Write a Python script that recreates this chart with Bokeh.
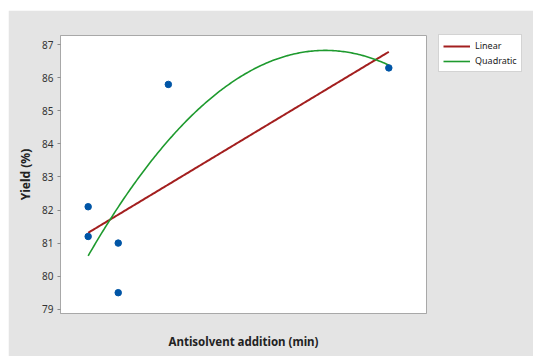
import numpy as np
from bokeh.plotting import figure
from bokeh.models import FixedTicker, Legend, LegendItem, Range1d, Spacer
from bokeh.layouts import column, row
from bokeh.embed import file_html
from bokeh.resources import INLINE

# data (x position read on a relative scale; the axis carries no tick labels)
addition_time = [0, 0, 3, 3, 8, 30]
yield_pct = [82.1, 81.2, 81.0, 79.5, 85.8, 86.3]
y_ticks = [79, 80, 81, 82, 83, 84, 85, 86, 87]

x = np.array(addition_time, dtype=float)
y = np.array(yield_pct, dtype=float)
xs = np.linspace(x.min(), x.max(), 200)
lin = np.polyval(np.polyfit(x, y, 1), xs)
quad = np.polyval(np.polyfit(x, y, 2), xs)

FONT = "Noto Sans"
BG = "#e4e4e4"

p = figure(width=525, height=346, output_backend="svg", toolbar_location=None,
           x_range=Range1d(-2.76, 33.76), y_range=Range1d(78.87, 87.28),
           frame_width=366, frame_height=278,
           min_border_left=52, min_border_top=25, min_border_right=107, min_border_bottom=43)
p.background_fill_color = "white"
p.border_fill_color = BG
p.outline_line_color = "#a8a8a8"
p.outline_line_width = 1
p.grid.visible = False

r_lin = p.line(xs, lin, line_color="#a31f1f", line_width=2)
r_quad = p.line(xs, quad, line_color="#1e9a2e", line_width=1.6)
p.scatter(addition_time, yield_pct, size=6.5, fill_color="#0055a6", line_color="#0055a6")

p.yaxis.ticker = FixedTicker(ticks=y_ticks)
p.yaxis.minor_tick_line_color = None
p.yaxis.major_tick_in = 0
p.yaxis.major_tick_out = 3
p.yaxis.major_tick_line_color = "#888888"
p.yaxis.axis_line_color = "#a8a8a8"
p.yaxis.major_label_text_font = FONT
p.yaxis.major_label_text_font_size = "10px"
p.yaxis.major_label_text_color = "#333333"
p.yaxis.major_label_standoff = 4
p.yaxis.axis_label = "Yield (%)"
p.yaxis.axis_label_text_font = FONT
p.yaxis.axis_label_text_font_style = "bold"
p.yaxis.axis_label_text_font_size = "12px"
p.yaxis.axis_label_text_color = "#222222"
p.yaxis.axis_label_standoff = 5

p.xaxis.ticker = FixedTicker(ticks=[])
p.xaxis.minor_tick_line_color = None
p.xaxis.axis_line_color = "#a8a8a8"
p.xaxis.axis_label = "Antisolvent addition (min)"
p.xaxis.axis_label_text_font = FONT
p.xaxis.axis_label_text_font_style = "bold"
p.xaxis.axis_label_text_font_size = "11.5px"
p.xaxis.axis_label_text_color = "#222222"
p.xaxis.axis_label_standoff = 20

legend = Legend(items=[LegendItem(label="Linear", renderers=[r_lin]),
                       LegendItem(label="Quadratic", renderers=[r_quad])],
                location=(12, 241))
legend.label_text_font = FONT
legend.label_text_font_size = "9px"
legend.label_text_color = "#222222"
legend.glyph_width = 27
legend.glyph_height = 10
legend.label_height = 10
legend.label_standoff = 5
legend.spacing = 2
legend.padding = 4
legend.margin = 0
legend.border_line_color = "#a8a8a8"
legend.background_fill_color = "white"
legend.background_fill_alpha = 1
p.add_layout(legend, "right")

layout = column(Spacer(height=10), row(Spacer(width=8), p))
layout.styles = {"background-color": "white"}

open("out.html", "w").write(file_html(layout, INLINE))
